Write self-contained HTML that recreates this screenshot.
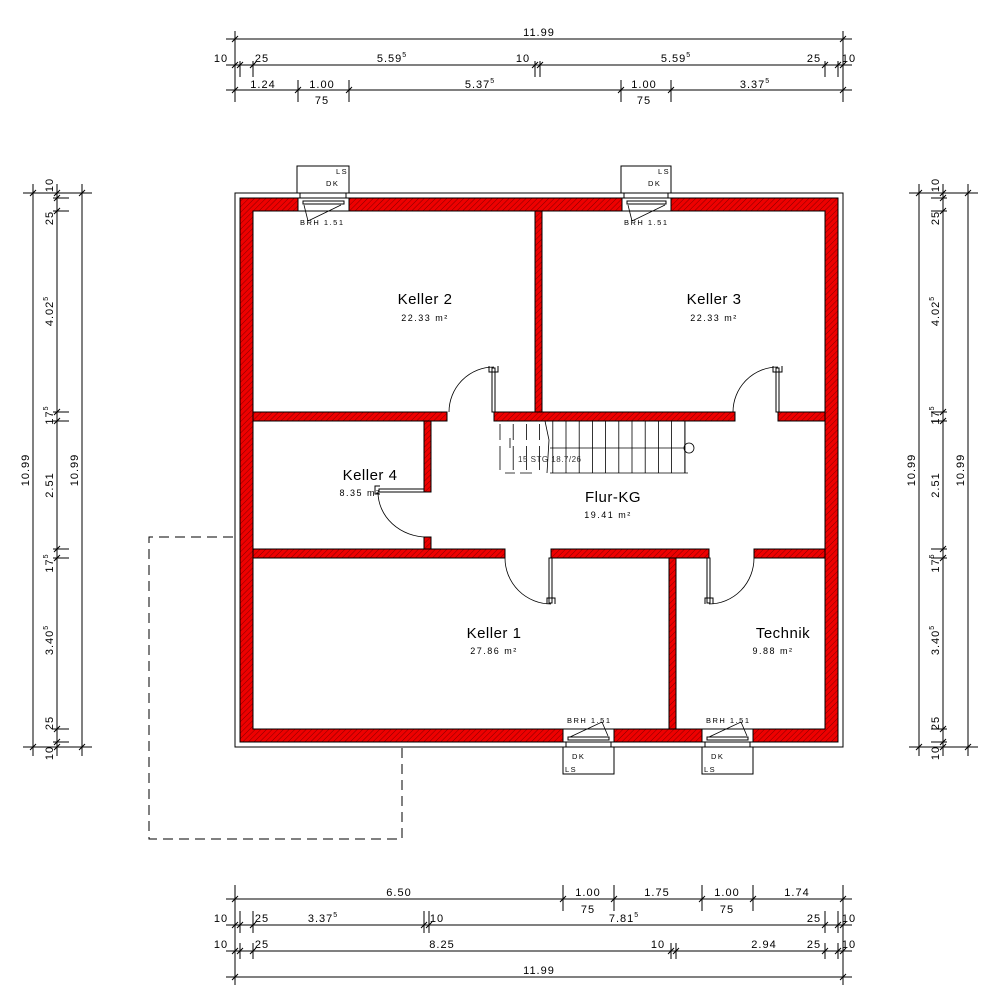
<!DOCTYPE html>
<html><head><meta charset="utf-8"><style>
html,body{margin:0;padding:0;background:#fff;}
svg{display:block;font-family:"Liberation Sans",sans-serif;}
</style></head><body>
<svg id="s" width="1000" height="999" viewBox="0 0 1000 999" xmlns="http://www.w3.org/2000/svg">
<defs>
<pattern id="h" width="4" height="4" patternUnits="userSpaceOnUse" patternTransform="rotate(45)">
<rect width="4" height="4" fill="#ee0000"/><line x1="0" y1="0" x2="0" y2="4" stroke="#600" stroke-width="0.8"/>
</pattern>
</defs>
<rect width="1000" height="999" fill="#fff"/>
<!-- outer outline -->
<rect x="235" y="193" width="608" height="554" fill="none" stroke="#000" stroke-width="1"/>
<!-- outer wall -->
<path d="M240 198H838V742H240Z M253 211V729H825V211Z" fill="url(#h)" fill-rule="evenodd" stroke="#000" stroke-width="1"/>
<!-- interior walls -->
<g fill="url(#h)" stroke="#000" stroke-width="1">
<rect x="535" y="211" width="7" height="201"/>
<rect x="253" y="412" width="194" height="9"/>
<rect x="494" y="412" width="241" height="9"/>
<rect x="778" y="412" width="47" height="9"/>
<rect x="424" y="421" width="7" height="71"/>
<rect x="424" y="537" width="7" height="12"/>
<rect x="253" y="549" width="252" height="9"/>
<rect x="551" y="549" width="158" height="9"/>
<rect x="754" y="549" width="71" height="9"/>
<rect x="669" y="558" width="7" height="171"/>
</g>
<!-- windows -->
<g fill="#fff" stroke="#000" stroke-width="1">
<rect x="297" y="166" width="52" height="27"/><rect x="300" y="193" width="46" height="5"/><rect x="298" y="198" width="51" height="13"/>
<rect x="303" y="201" width="41" height="3"/>
<rect x="621" y="166" width="50" height="27"/><rect x="624" y="193" width="44" height="5"/><rect x="622" y="198" width="49" height="13"/>
<rect x="627" y="201" width="39" height="3"/>
<rect x="563" y="747" width="51" height="27"/><rect x="566" y="742" width="45" height="5"/><rect x="563" y="729" width="51" height="13"/>
<rect x="568" y="737" width="41" height="3"/>
<rect x="702" y="747" width="51" height="27"/><rect x="705" y="742" width="45" height="5"/><rect x="702" y="729" width="51" height="13"/>
<rect x="707" y="737" width="41" height="3"/>
</g>
<g stroke="#000" stroke-width="0.8" fill="none">
<path d="M304 205L308 221M308 221L341 205"/>
<path d="M628 205L632 221M632 221L665 205"/>
<path d="M570 737L602 722L608 736"/>
<path d="M709 737L741 722L747 736"/>
</g>
<g font-size="7.5" letter-spacing="1.5" fill="#000">
<text x="336" y="174">LS</text><text x="326" y="186">DK</text><text x="300" y="225">BRH 1.51</text>
<text x="658" y="174">LS</text><text x="648" y="186">DK</text><text x="624" y="225">BRH 1.51</text>
<text x="567" y="723">BRH 1.51</text><text x="572" y="759">DK</text><text x="565" y="772">LS</text>
<text x="706" y="723">BRH 1.51</text><text x="711" y="759">DK</text><text x="704" y="772">LS</text>
</g>
<!-- doors -->
<g stroke="#000" stroke-width="0.8" fill="none">
<path d="M494 367A45 45 0 0 0 449 412"/>
<path d="M778 367A45 45 0 0 0 733 412"/>
<path d="M378 492A49 45 0 0 0 427 537"/>
<path d="M551 604A46 46 0 0 1 505 558"/>
<path d="M709 604A45 46 0 0 0 754 558"/>
</g>
<g fill="#fff" stroke="#000" stroke-width="1">
<rect x="492" y="368" width="3" height="44"/><rect x="776" y="368" width="3" height="44"/>
<rect x="379" y="489" width="45" height="3"/>
<rect x="549" y="558" width="3" height="45"/><rect x="707" y="558" width="3" height="45"/>
</g>
<g stroke="#000" stroke-width="1" fill="none">
<path d="M489 366v6h9v-6"/><path d="M773 366v6h9v-6"/><path d="M380 486h-5v8h5"/>
<path d="M547 604v-6h8v6"/><path d="M705 604v-6h8v6"/>
</g>
<!-- stairs -->
<g id="st" stroke="#000" stroke-width="0.8" fill="none"></g>
<circle cx="689" cy="448" r="5" fill="none" stroke="#000" stroke-width="0.8"/>
<text x="518" y="462" font-size="8" fill="#333" letter-spacing="0.5">15 STG  18.7/26</text>
<!-- dashed outline -->
<path d="M233 537H149V839H402V747" fill="none" stroke="#000" stroke-width="1" stroke-dasharray="10,6"/>
<!-- room labels -->
<g fill="#000" text-anchor="middle">
<text x="425" y="304" font-size="15" letter-spacing="0.5">Keller 2</text><text x="425" y="321" font-size="9" letter-spacing="1.5">22.33 m²</text>
<text x="714" y="304" font-size="15" letter-spacing="0.5">Keller 3</text><text x="714" y="321" font-size="9" letter-spacing="1.5">22.33 m²</text>
<text x="370" y="480" font-size="15" letter-spacing="0.5">Keller 4</text><text x="360" y="496" font-size="9" letter-spacing="1.5">8.35 m²</text>
<text x="613" y="502" font-size="15" letter-spacing="0.5">Flur-KG</text><text x="608" y="518" font-size="9" letter-spacing="1.5">19.41 m²</text>
<text x="494" y="638" font-size="15" letter-spacing="0.5">Keller 1</text><text x="494" y="654" font-size="9" letter-spacing="1.5">27.86 m²</text>
<text x="783" y="638" font-size="15" letter-spacing="0.5">Technik</text><text x="773" y="654" font-size="9" letter-spacing="1.5">9.88 m²</text>
</g>
<g id="dims" stroke="#000" stroke-width="1" fill="none"></g>
<g id="dt" fill="#000" font-size="11" letter-spacing="1"></g>
</svg>
<script>
var NS="http://www.w3.org/2000/svg";
function el(p,t,a,txt){var e=document.createElementNS(NS,t);for(var k in a)e.setAttribute(k,a[k]);if(txt!=null)e.textContent=txt;document.getElementById(p).appendChild(e);return e;}
// stairs
for(var i=0;i<15;i++){var x=500+i*13.2;
 if(x<545){el('st','line',{x1:x,y1:424,x2:x,y2:440});el('st','line',{x1:x,y1:446,x2:x,y2:470});}
 else el('st','line',{x1:x,y1:421,x2:x,y2:473});}
el('st','line',{x1:685,y1:421,x2:685,y2:473});
el('st','line',{x1:550,y1:473,x2:688,y2:473});
el('st','line',{x1:550,y1:448,x2:684,y2:448});
el('st','path',{d:"M545 421L549 440L547 473"});
el('st','path',{d:"M510 448V438M505 473h10M520 473h12"});
// horizontal dims
function hd(y,ticks,ext){el('dims','line',{x1:226,y1:y,x2:852,y2:y});
 ticks.forEach(function(x){el('dims','line',{x1:x,y1:y-ext[0],x2:x,y2:y+ext[1]});el('dims','line',{x1:x-3,y1:y+3,x2:x+3,y2:y-3});});}
hd(39,[235,843],[8,60]);
hd(65,[235,240,253,535,540,825,838,843],[4,12]);
hd(90,[235,298,349,621,671,843],[10,12]);
hd(899,[235,563,614,702,753,843],[14,12]);
hd(925,[235,240,253,424,429,825,838,843],[14,8]);
hd(951,[235,240,253,671,676,825,838,843],[8,8]);
hd(977,[235,843],[90,8]);
function t(x,y,s,sup,anchor){var e=el('dt','text',{x:x,y:y,'text-anchor':anchor||'middle'},s);if(sup){var ts=document.createElementNS(NS,'tspan');ts.setAttribute('dy','-5');ts.setAttribute('font-size','7');ts.textContent=sup;e.appendChild(ts);}return e;}
t(539,36,'11.99');t(221,62,'10');t(262,62,'25');t(392,62,'5.59','5');t(523,62,'10');t(676,62,'5.59','5');t(814,62,'25');t(849,62,'10');
t(263,88,'1.24');t(322,88,'1.00');t(322,104,'75');t(480,88,'5.37','5');t(644,88,'1.00');t(644,104,'75');t(755,88,'3.37','5');
t(399,896,'6.50');t(588,896,'1.00');t(588,913,'75');t(657,896,'1.75');t(727,896,'1.00');t(727,913,'75');t(797,896,'1.74');
t(221,922,'10');t(262,922,'25');t(323,922,'3.37','5');t(437,922,'10');t(624,922,'7.81','5');t(814,922,'25');t(849,922,'10');
t(221,948,'10');t(262,948,'25');t(442,948,'8.25');t(658,948,'10');t(764,948,'2.94');t(814,948,'25');t(849,948,'10');
t(539,974,'11.99');
// vertical dims
function vd(x,ticks,ext){el('dims','line',{x1:x,y1:184,x2:x,y2:756});
 ticks.forEach(function(y){el('dims','line',{x1:x-ext[0],y1:y,x2:x+ext[1],y2:y});el('dims','line',{x1:x-3,y1:y+3,x2:x+3,y2:y-3});});}
vd(33,[193,747],[10,58]);vd(57,[193,198,211,412,421,549,558,729,742,747],[4,12]);vd(82,[193,747],[10,10]);
vd(919,[193,747],[10,58]);vd(943,[193,198,211,412,421,549,558,729,742,747],[12,4]);vd(968,[193,747],[10,10]);
function vt(x,y,s,sup){var e=t(0,0,s,sup);e.setAttribute('transform','translate('+x+','+y+') rotate(-90)');}
[[53,935]].forEach(function(c){var x=c[0];
vt(x,185,'10');vt(x,218,'25');vt(x,311,'4.02','5');vt(x,415,'17','5');vt(x,485,'2.51');vt(x,563,'17','5');vt(x,640,'3.40','5');vt(x,723,'25');vt(x,753,'10');});
[[938]].forEach(function(){var x=939;
vt(x,185,'10');vt(x,218,'25');vt(x,311,'4.02','5');vt(x,415,'17','5');vt(x,485,'2.51');vt(x,563,'17','5');vt(x,640,'3.40','5');vt(x,723,'25');vt(x,753,'10');});
vt(29,470,'10.99');vt(78,470,'10.99');vt(915,470,'10.99');vt(964,470,'10.99');
</script>
</body></html>
